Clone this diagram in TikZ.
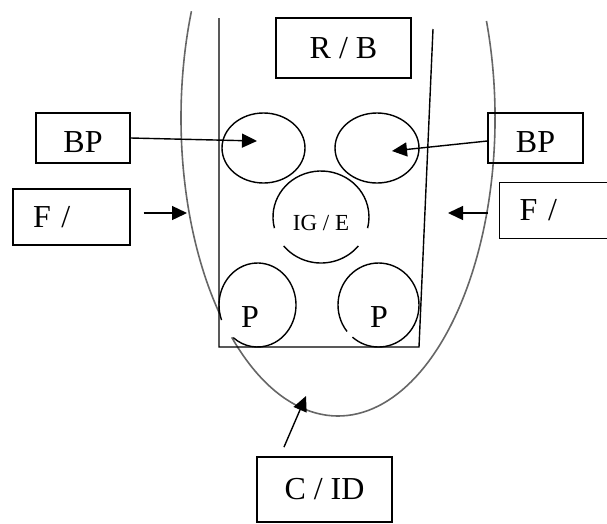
\documentclass[tikz,border=0pt]{standalone}
\usepackage{fontspec}
\setmainfont{Liberation Serif}
\usetikzlibrary{shapes.geometric,arrows.meta,calc}

\begin{document}
\begin{tikzpicture}[x=1pt,y=-1pt,
        box/.style = {draw, line width=1.4pt, inner sep=0pt, font=\fontsize{32}{38}\selectfont},
        fbox/.style = {box, inner xsep=20pt, align=left, minimum height=56pt},
        pod/.style = {draw, ellipse, line width=1.4pt, inner sep=0pt},
        tag/.style = {inner sep=0pt, font=\fontsize{32}{38}\selectfont},
        arr/.style = {line width=1.4pt, -{Triangle[length=15pt,width=14pt]}},
        shell/.style = {draw=black!60, line width=1.6pt}]
    \useasboundingbox (0,0) rectangle (607,523);

    % outer shell, open where it passes the lower left pod
    \draw[shell] (338,118) ++(-19:157 and 298) arc[start angle=-19, end angle=132.6, x radius=157, y radius=298];
    \draw[shell] (338,118) ++(139:157 and 298) arc[start angle=139, end angle=201, x radius=157, y radius=298];

    % container
    \draw[line width=1.4pt] (219,18) -- (219,347) -- (419,347) -- (433,29);

    % labels
    \node[box, minimum width=135pt, minimum height=60pt] (rb) at (343.5,48) {R / B};
    \node[box, minimum width=94pt, minimum height=50pt, text height=29pt, text depth=0pt] (bpL) at (83,138) {BP};
    \node[box, minimum width=95pt, minimum height=50pt, text height=29pt, text depth=0pt] (bpR) at (535.5,138) {BP};
    \node[fbox, text width=77pt] (fL) at (71.5,217) {F /};
    \node[fbox, text width=80pt, anchor=west] (fR) at (499,210.5) {F /};
    \node[box, minimum width=135pt, minimum height=65pt] (cid) at (324.5,489.5) {C / ID};

    % pods
    \node[pod, minimum width=83pt, minimum height=70pt] (bpodL) at (263.5,148) {};
    \node[pod, minimum width=84pt, minimum height=70pt] (bpodR) at (377,148) {};
    \coordinate (igc) at (321,217);
    \draw[line width=1.4pt] (igc) ++(39:48 and 46) arc[start angle=39, end angle=141, x radius=48, y radius=46];
    \draw[line width=1.4pt] (igc) ++(166:48 and 46) arc[start angle=166, end angle=374, x radius=48, y radius=46];
    \node[inner sep=0pt, font=\fontsize{23}{27}\selectfont] (ig) at (321,223) {IG / E};
    \coordinate (pLc) at (257.5,305);
    \coordinate (pRc) at (378.5,305);
    \draw[line width=1.4pt] (pLc) ++(159:38.5 and 42) arc[start angle=159, end angle=489, x radius=38.5, y radius=42];
    \draw[line width=1.4pt] (pRc) ++(141:40.5 and 42) arc[start angle=141, end angle=490, x radius=40.5, y radius=42];
    \node[tag] (pL) at (250,317) {P};
    \node[tag] (pR) at (379,317) {P};

    % arrow tips
    \coordinate (tipBL) at (257,141);
    \coordinate (tipBR) at (392,151);
    \coordinate (tipFL) at (187,213);
    \coordinate (tipFR) at (448,213);
    \coordinate (tipC) at (306,396);

    \draw[arr] (bpL.east) -- (tipBL);
    \draw[arr] ($(bpR.west)+(0,3)$) -- (tipBR);
    \draw[arr, shorten <=13pt] ($(fL.east)+(0,-4)$) -- (tipFL);
    \draw[arr, shorten <=11pt] ($(fR.west)+(0,2.5)$) -- (tipFR);
    \draw[arr, shorten <=10pt] ($(cid.north)+(-44.5,0)$) -- (tipC);
\end{tikzpicture}
\end{document}
